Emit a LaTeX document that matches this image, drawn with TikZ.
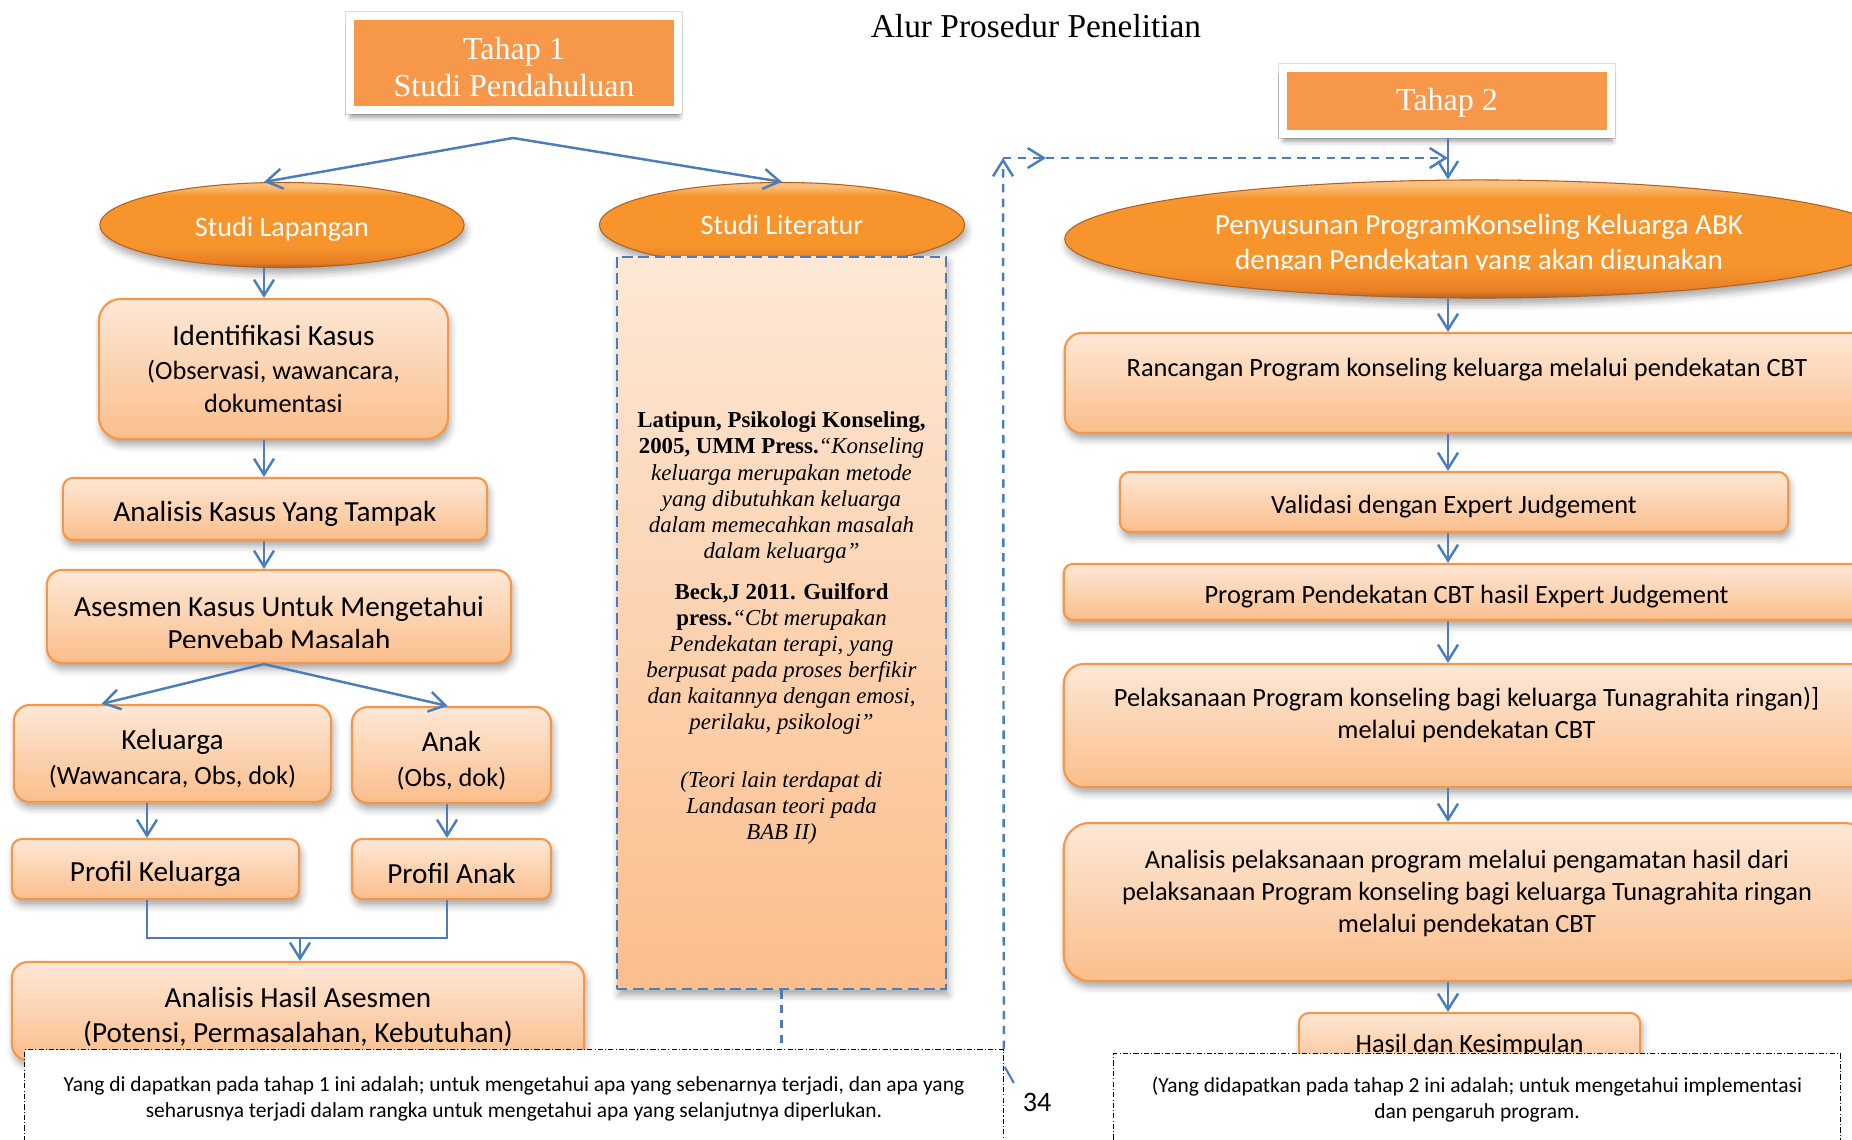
\documentclass[tikz,border=0pt]{standalone}
\usepackage{fontspec}
\setmainfont{Liberation Serif}
\setsansfont{Carlito}
\usetikzlibrary{shapes.geometric,arrows.meta,shadows.blur,calc}

\definecolor{peachTop}{RGB}{253,232,214}
\definecolor{peachBot}{RGB}{251,190,140}
\definecolor{peachLine}{RGB}{247,150,70}
\definecolor{flowBlue}{RGB}{74,126,187}
\definecolor{ovalHi}{RGB}{251,192,124}
\definecolor{ovalMid}{RGB}{247,148,44}
\definecolor{ovalDeep}{RGB}{232,126,36}
\definecolor{ovalRim}{RGB}{176,98,34}
\definecolor{stageFill}{RGB}{246,151,74}

% glossy fill of the ovals (bottom to top)
\pgfdeclareverticalshading{ovalglow}{100bp}{color(0bp)=(ovalRim); color(25bp)=(ovalRim);
  color(28bp)=(ovalDeep); color(38bp)=(ovalMid); color(67bp)=(ovalMid);
  color(73bp)=(ovalHi); color(100bp)=(ovalHi)}

% smaller second lines inside the boxes
\newcommand{\subline}{\fontsize{7.5}{9}\selectfont}
\newcommand{\headroom}[1]{\rule{0pt}{#1}}

\begin{document}
\begin{tikzpicture}[
  x=0.01cm, y=-0.01cm,
  softshadow/.style={blur shadow={shadow xshift=0.02cm, shadow yshift=-0.06cm,
      shadow blur radius=0.07cm, shadow opacity=35}},
  drop/.style={execute at begin node={\rule{0pt}{#1}}},
  rbox/.style={draw=peachLine, line width=0.6pt, top color=peachTop,
    bottom color=peachBot, rounded corners=#1, softshadow, align=center,
    inner sep=0pt},
  rbox/.default=0.12cm,
  ltxt/.style={align=center, font=\sffamily\fontsize{8.3}{9.4}\selectfont},
  rtxt/.style={align=center, font=\sffamily\fontsize{7.5}{9.1}\selectfont},
  oval/.style={ellipse, draw=ovalRim, line width=0.3pt, shade, shading=ovalglow,
    text=white, align=center, font=\sffamily\fontsize{8}{10}\selectfont,
    inner sep=0pt, softshadow},
  stage/.style={draw=white, line width=0.08cm, fill=stageFill, text=white,
    align=center, font=\rmfamily\fontsize{9.1}{10.5}\selectfont,
    preaction={draw=black!13, line width=0.095cm},
    blur shadow={shadow xshift=0.01cm, shadow yshift=-0.07cm,
      shadow blur radius=0.05cm, shadow opacity=40}},
  litbox/.style={draw=flowBlue, line width=0.6pt, dash pattern=on 3pt off 1.6pt,
    top color=peachTop, bottom color=peachBot, softshadow, align=center,
    font=\rmfamily\fontsize{6.5}{7.4}\selectfont},
  note/.style={draw=black, line width=0.3pt,
    dash pattern=on 1.5pt off 0.6pt on 0.3pt off 0.6pt, fill=white,
    align=center, font=\sffamily\fontsize{6.1}{7.4}\selectfont},
  flow/.style={draw=flowBlue, line width=0.7pt},
  arr/.style={flow, -{Straight Barb[length=0.16cm, width=0.2cm]}},
  darr/.style={arr, dash pattern=on 2.4pt off 1.8pt}]

\useasboundingbox (0,0) rectangle (1852,1140);
\clip (0,0) rectangle (1852,1140);

% lanes for the vertical arrows
\coordinate (spineL) at (264,0);
\coordinate (spineR) at (1448,0);
\coordinate (laneK) at (147,0);
\coordinate (laneA) at (447,0);

\node[font=\rmfamily\fontsize{9.5}{11}\selectfont] (title) at (1036,26) {Alur Prosedur Penelitian};

% tahap 1
\node[stage, minimum width=3.28cm, minimum height=0.945cm] (tahap1) at (514,63) {\headroom{8.8pt}Tahap 1\\Studi Pendahuluan};
\node[oval, drop=7.8pt, minimum width=3.64cm, minimum height=0.85cm] (lap) at (282,225) {Studi Lapangan};
\node[oval, drop=5.6pt, minimum width=3.65cm, minimum height=0.85cm] (lit) at (782,225) {Studi Literatur};
\node[litbox, minimum width=3.29cm, minimum height=7.32cm] (litbox) at (781.5,623) {};
\node[font=\rmfamily\fontsize{6.5}{7.4}\selectfont, align=center] (litT) at (781.5,628)
  {\textbf{Latipun, Psikologi Konseling,}\\
   \textbf{2005, UMM Press.}\textit{“Konseling}\\
   \textit{keluarga merupakan metode}\\
   \textit{yang dibutuhkan keluarga}\\
   \textit{dalam memecahkan masalah}\\
   \textit{dalam keluarga”}\\[4.3pt]
   \textbf{Beck,J 2011. Guilford}\\
   \textbf{press.}\textit{“Cbt merupakan}\\
   \textit{Pendekatan terapi, yang}\\
   \textit{berpusat pada proses berfikir}\\
   \textit{dan kaitannya dengan emosi,}\\
   \textit{perilaku, psikologi”}\\[9pt]
   \textit{(Teori lain terdapat di}\\
   \textit{Landasan teori pada}\\
   \textit{BAB II)}};

\node[rbox=0.22cm, ltxt, minimum width=3.49cm, minimum height=1.40cm] (idk) at (273.5,369)
  {Identifikasi Kasus\\\subline(Observasi, wawancara,\\\subline dokumentasi};
\node[rbox=0.1cm, ltxt, drop=8.6pt, minimum width=4.24cm, minimum height=0.62cm] (ana) at (275,509) {Analisis Kasus Yang Tampak};
\node[rbox=0.15cm, minimum width=4.64cm, minimum height=0.93cm] (ases) at (279,616.5) {};
\begin{scope}
  \clip (ases.north west) rectangle ($(ases.east)+(0,30.5)$);
  \node[ltxt] (asesT) at (279,625) {Asesmen Kasus Untuk Mengetahui\\Penyebab Masalah};
\end{scope}

\node[rbox=0.16cm, ltxt, font=\sffamily\fontsize{8.3}{10}\selectfont, minimum width=3.17cm, minimum height=0.97cm] (kel) at (172.5,753.5)
  {\headroom{8.8pt}Keluarga\\\subline(Wawancara, Obs, dok)};
\node[rbox=0.16cm, ltxt, font=\sffamily\fontsize{8.3}{10}\selectfont, minimum width=1.99cm, minimum height=0.96cm] (anak) at (451.5,755)
  {\headroom{8.8pt}Anak\\\subline(Obs, dok)};
\node[rbox=0.1cm, ltxt, drop=8.6pt, minimum width=2.87cm, minimum height=0.60cm] (pk) at (155.5,869) {Profil Keluarga};
\node[rbox=0.1cm, ltxt, drop=8.4pt, minimum width=1.99cm, minimum height=0.60cm] (pa) at (451.5,869) {Profil Anak};
\node[rbox=0.16cm, ltxt, font=\sffamily\fontsize{8.3}{10}\selectfont, minimum width=5.72cm, minimum height=0.98cm] (has) at (298,1011)
  {\headroom{9.2pt}Analisis Hasil Asesmen\\(Potensi, Permasalahan, Kebutuhan)};

% tahap 2
\node[stage, drop=7.6pt, minimum width=3.285cm, minimum height=0.665cm] (tahap2) at (1447,101) {Tahap 2};
\node[oval, minimum width=8.28cm, minimum height=1.18cm] (pen) at (1479,239) {};
\begin{scope}
  \clip (pen.north west) rectangle ($(pen.east)+(0,31)$);
  \node[text=white, align=center, font=\sffamily\fontsize{8.3}{10}\selectfont] (penT) at (1479,244.5)
    {Penyusunan ProgramKonseling Keluarga ABK\\dengan Pendekatan yang akan digunakan};
\end{scope}

\node[rbox=0.17cm, minimum width=8.04cm, minimum height=1.0cm] (ran) at (1467,383) {};
\node[rtxt] (ranT) at (1467,370) {Rancangan Program konseling keluarga melalui pendekatan CBT};
\node[rbox=0.1cm, rtxt, drop=7.6pt, minimum width=6.68cm, minimum height=0.6cm] (val) at (1454,502) {Validasi dengan Expert Judgement};
\node[rbox=0.09cm, rtxt, drop=7.8pt, minimum width=8.05cm, minimum height=0.56cm] (prog) at (1466.5,592) {Program Pendekatan CBT hasil Expert Judgement};
\node[rbox=0.2cm, minimum width=8.05cm, minimum height=1.23cm] (pel) at (1466.5,725.5) {};
\node[rtxt] (pelT) at (1466.5,715)
  {Pelaksanaan Program konseling bagi keluarga Tunagrahita ringan)]\\melalui pendekatan CBT};
\node[rbox=0.26cm, minimum width=8.06cm, minimum height=1.58cm] (anp) at (1467,902) {};
\node[rtxt] (anpT) at (1467,893.5)
  {Analisis pelaksanaan program melalui pengamatan hasil dari\\pelaksanaan Program konseling bagi keluarga Tunagrahita ringan\\melalui pendekatan CBT};
\node[rbox=0.1cm, rtxt, drop=6.4pt, minimum width=3.41cm, minimum height=0.6cm] (hasil) at (1469.5,1043) {Hasil dan Kesimpulan};

% notes at the foot of the page
\node[note, minimum width=9.78cm, minimum height=0.98cm, anchor=north] (note1) at (514,1049)
  {Yang di dapatkan pada tahap 1 ini adalah; untuk mengetahui apa yang sebenarnya terjadi, dan apa yang\\
   seharusnya terjadi dalam rangka untuk mengetahui apa yang selanjutnya diperlukan.};
\node[note, minimum width=7.26cm, minimum height=0.91cm, anchor=north] (note2) at (1477,1053)
  {(Yang didapatkan pada tahap 2 ini adalah; untuk mengetahui implementasi\\dan pengaruh program.};
\node[font=\sffamily\fontsize{8}{9}\selectfont] (pagenum) at (1037,1102) {34};

% connectors
\coordinate (split1) at (513,138);
\coordinate (split2) at (ases.south -| spineL);
\coordinate (join) at (300,938);
\coordinate (loopTop) at (1003,158);
\coordinate (loopMid) at (1046,158);

\path[every edge/.style=arr]
  (split1) edge (lap.north -| spineL)
  (split1) edge (lit.north)
  (lap.south -| spineL) edge (idk.north -| spineL)
  (idk.south -| spineL) edge (ana.north -| spineL)
  (ana.south -| spineL) edge (ases.north -| spineL)
  (split2) edge ($(kel.north)+(-71,0)$)
  (split2) edge ($(anak.north)+(-4,0)$)
  (kel.south -| laneK) edge (pk.north -| laneK)
  (anak.south -| laneA) edge (pa.north -| laneA)
  (join) edge (has.north -| join);
\draw[flow] (pk.south -| laneK) |- (join) -| (pa.south -| laneA);

\path[every edge/.style=arr]
  (tahap2.south -| spineR) edge (pen.north -| spineR)
  (pen.south -| spineR) edge (ran.north -| spineR)
  (ran.south -| spineR) edge (val.north -| spineR)
  (val.south -| spineR) edge (prog.north -| spineR)
  (prog.south -| spineR) edge (pel.north -| spineR)
  (pel.south -| spineR) edge (anp.north -| spineR)
  (anp.south -| spineR) edge (hasil.north -| spineR);

\path[every edge/.style=darr]
  (note1.north east) edge (loopTop)
  (loopTop) edge (loopMid)
  (loopMid) edge (spineR |- loopTop);
\draw[flow, dash pattern=on 2.4pt off 1.8pt] (litbox.south) -- (litbox.south |- note1.north);
% barb poking out at the corner of the first note
\draw[flow, line width=0.6pt] ($(note1.north east)+(1,18)$) -- ++(9,16);

\end{tikzpicture}
\end{document}
